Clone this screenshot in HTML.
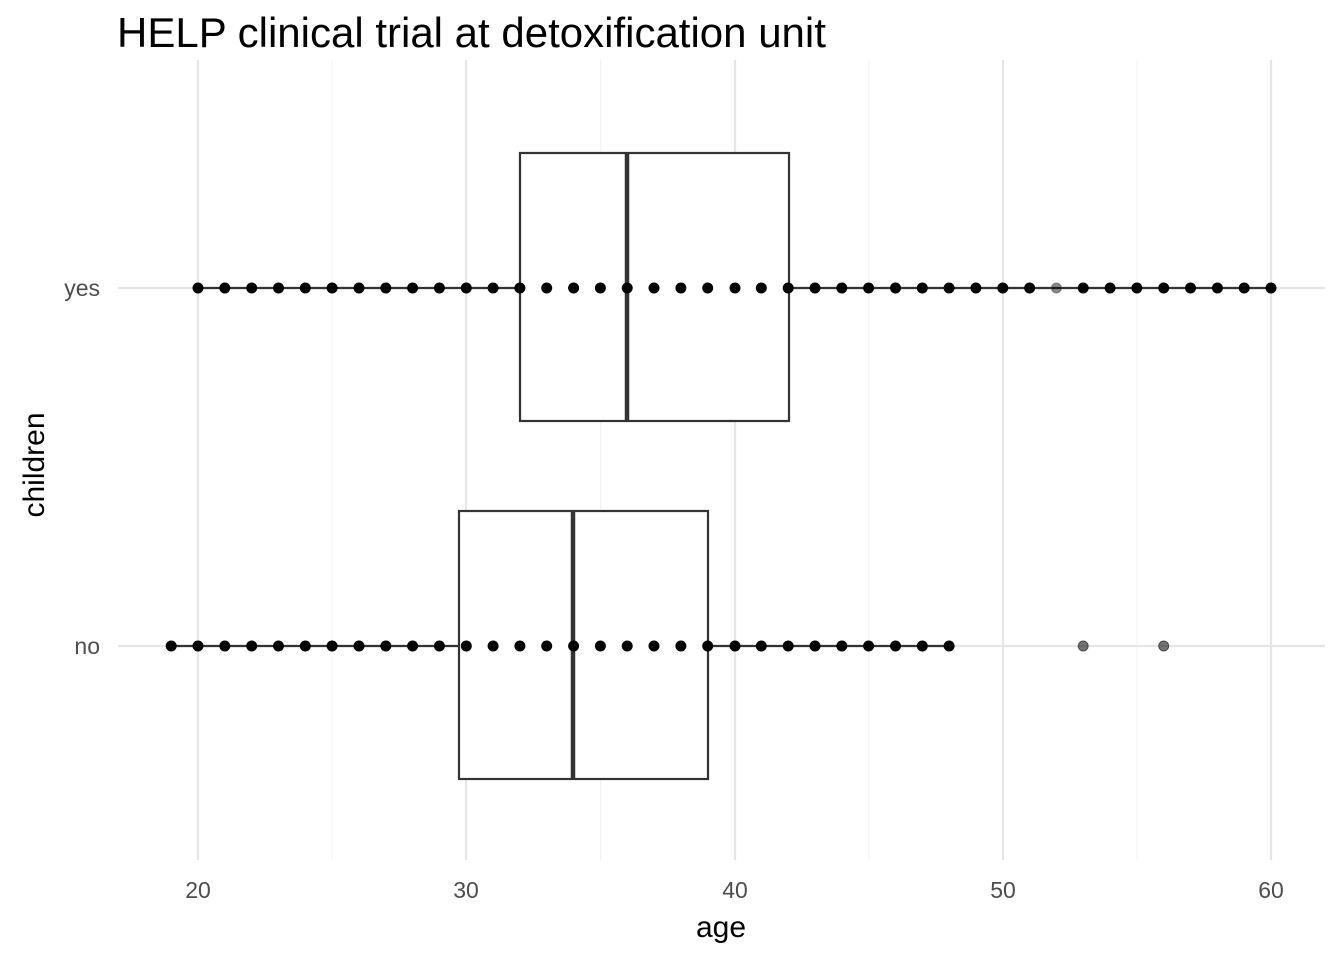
<!DOCTYPE html>
<html><head><meta charset="utf-8"><style>body{margin:0;background:#fff}svg{display:block}</style></head><body>
<svg xmlns="http://www.w3.org/2000/svg" width="1344" height="960" viewBox="0 0 1344 960" font-family="Liberation Sans, Arial, sans-serif">
<rect width="1344" height="960" fill="#fff"/>
<g stroke="#f3f3f3" stroke-width="1.2">
<line x1="332" y1="60" x2="332" y2="860"/><line x1="600.5" y1="60" x2="600.5" y2="860"/><line x1="869" y1="60" x2="869" y2="860"/><line x1="1137" y1="60" x2="1137" y2="860"/>
</g>
<g stroke="#e6e6e6" stroke-width="2.2">
<line x1="198" y1="60" x2="198" y2="860"/><line x1="466" y1="60" x2="466" y2="860"/><line x1="735" y1="60" x2="735" y2="860"/><line x1="1003" y1="60" x2="1003" y2="860"/><line x1="1271" y1="60" x2="1271" y2="860"/>
<line x1="118" y1="288" x2="1325" y2="288"/><line x1="118" y1="646" x2="1325" y2="646"/>
</g>
<g stroke="#333" stroke-width="2.2" fill="none">
<line x1="198" y1="288" x2="520" y2="288"/><line x1="789" y1="288" x2="1271" y2="288"/>
<rect x="520" y="153" width="269" height="268" fill="#fff"/>
<line x1="627" y1="153" x2="627" y2="421" stroke-width="4.5"/>
<line x1="171" y1="646" x2="459" y2="646"/><line x1="708" y1="646" x2="950" y2="646"/>
<rect x="459" y="511" width="249" height="268" fill="#fff"/>
<line x1="573" y1="511" x2="573" y2="779" stroke-width="4.5"/>
</g>
<g fill="#000">
<circle cx="198" cy="288" r="5.5"/><circle cx="224.8" cy="288" r="5.5"/><circle cx="251.7" cy="288" r="5.5"/><circle cx="278.5" cy="288" r="5.5"/><circle cx="305.3" cy="288" r="5.5"/><circle cx="332.1" cy="288" r="5.5"/><circle cx="359" cy="288" r="5.5"/><circle cx="385.8" cy="288" r="5.5"/><circle cx="412.6" cy="288" r="5.5"/><circle cx="439.4" cy="288" r="5.5"/><circle cx="466.3" cy="288" r="5.5"/><circle cx="493.1" cy="288" r="5.5"/><circle cx="519.9" cy="288" r="5.5"/><circle cx="546.7" cy="288" r="5.5"/><circle cx="573.6" cy="288" r="5.5"/><circle cx="600.4" cy="288" r="5.5"/><circle cx="627.2" cy="288" r="5.5"/><circle cx="654" cy="288" r="5.5"/><circle cx="680.9" cy="288" r="5.5"/><circle cx="707.7" cy="288" r="5.5"/><circle cx="735" cy="288" r="5.5"/><circle cx="761.3" cy="288" r="5.5"/><circle cx="788.2" cy="288" r="5.5"/><circle cx="815" cy="288" r="5.5"/><circle cx="841.8" cy="288" r="5.5"/><circle cx="868.6" cy="288" r="5.5"/><circle cx="895.5" cy="288" r="5.5"/><circle cx="922.3" cy="288" r="5.5"/><circle cx="949.1" cy="288" r="5.5"/><circle cx="975.9" cy="288" r="5.5"/><circle cx="1002.8" cy="288" r="5.5"/><circle cx="1029.6" cy="288" r="5.5"/><circle cx="1056.4" cy="288" r="5" fill-opacity="0.45" stroke="#333" stroke-opacity="0.5"/><circle cx="1083.2" cy="288" r="5.5"/><circle cx="1110.1" cy="288" r="5.5"/><circle cx="1136.9" cy="288" r="5.5"/><circle cx="1163.7" cy="288" r="5.5"/><circle cx="1190.5" cy="288" r="5.5"/><circle cx="1217.4" cy="288" r="5.5"/><circle cx="1244.2" cy="288" r="5.5"/><circle cx="1271" cy="288" r="5.5"/>
<circle cx="171.2" cy="646" r="5.5"/><circle cx="198" cy="646" r="5.5"/><circle cx="224.8" cy="646" r="5.5"/><circle cx="251.7" cy="646" r="5.5"/><circle cx="278.5" cy="646" r="5.5"/><circle cx="305.3" cy="646" r="5.5"/><circle cx="332.1" cy="646" r="5.5"/><circle cx="359" cy="646" r="5.5"/><circle cx="385.8" cy="646" r="5.5"/><circle cx="412.6" cy="646" r="5.5"/><circle cx="439.4" cy="646" r="5.5"/><circle cx="466.3" cy="646" r="5.5"/><circle cx="493.1" cy="646" r="5.5"/><circle cx="519.9" cy="646" r="5.5"/><circle cx="546.7" cy="646" r="5.5"/><circle cx="573.6" cy="646" r="5.5"/><circle cx="600.4" cy="646" r="5.5"/><circle cx="627.2" cy="646" r="5.5"/><circle cx="654" cy="646" r="5.5"/><circle cx="680.9" cy="646" r="5.5"/><circle cx="707.7" cy="646" r="5.5"/><circle cx="735" cy="646" r="5.5"/><circle cx="761.3" cy="646" r="5.5"/><circle cx="788.2" cy="646" r="5.5"/><circle cx="815" cy="646" r="5.5"/><circle cx="841.8" cy="646" r="5.5"/><circle cx="868.6" cy="646" r="5.5"/><circle cx="895.5" cy="646" r="5.5"/><circle cx="922.3" cy="646" r="5.5"/><circle cx="949.1" cy="646" r="5.5"/>
<circle cx="1083.2" cy="646" r="5" fill-opacity="0.55" stroke="#222" stroke-opacity="0.7"/><circle cx="1163.7" cy="646" r="5" fill-opacity="0.55" stroke="#222" stroke-opacity="0.7"/>
</g>
<g fill="#4d4d4d" font-size="23" text-anchor="middle">
<text x="198" y="898">20</text><text x="466" y="898">30</text><text x="735" y="898">40</text><text x="1003" y="898">50</text><text x="1271" y="898">60</text>
</g>
<g fill="#4d4d4d" font-size="23" text-anchor="end">
<text x="100" y="296">yes</text><text x="100" y="654">no</text>
</g>
<text x="721" y="937" font-size="30" text-anchor="middle" fill="#000">age</text>
<text transform="translate(44,465) rotate(-90)" font-size="30" text-anchor="middle" fill="#000">children</text>
<text x="117" y="47" font-size="42" fill="#000">HELP clinical trial at detoxification unit</text>
</svg>
</body></html>
